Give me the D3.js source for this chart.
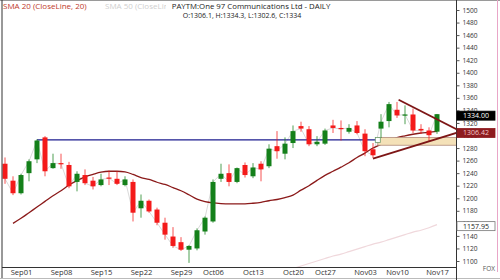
<!DOCTYPE html>
<html><head><meta charset="utf-8">
<script src="https://cdn.jsdelivr.net/npm/d3@7"></script>
<style>html,body{margin:0;padding:0;background:#fff;} svg{display:block;font-family:"Open Sans",sans-serif;}</style>
</head><body><svg id="c" width="500" height="280"></svg>
<script>
const dates = ["Aug28","Aug29","Sep01","Sep02","Sep03","Sep04","Sep05","Sep08","Sep09","Sep10","Sep11","Sep12","Sep15","Sep16","Sep17","Sep18","Sep19","Sep22","Sep23","Sep24","Sep25","Sep26","Sep29","Sep30","Oct01","Oct03","Oct06","Oct07","Oct08","Oct09","Oct10","Oct13","Oct14","Oct15","Oct16","Oct17","Oct20","Oct21","Oct23","Oct24","Oct27","Oct28","Oct29","Oct30","Oct31","Nov03","Nov04","Nov06","Nov07","Nov10","Nov11","Nov12","Nov13","Nov14","Nov17"];
const opens  = [1255,1228,1208,1240,1262,1297,1248,1256,1253,1226,1237,1228,1221,1233,1231,1221,1226,1184,1196,1182,1161,1139,1130,1118,1120,1147,1163,1231,1240,1226,1253,1235,1255,1251,1283,1271,1288,1315,1310,1286,1287,1316,1312,1306,1316,1303,1278,1311,1323,1341,1332,1333.5,1310.5,1308,1306.1];
const highs  = [1265,1235,1239,1262,1294,1299,1271,1271,1258,1243,1246,1234,1239,1244,1243,1235,1230,1206,1198,1185,1169,1154,1138,1125,1152,1171,1230,1255,1254,1249,1257,1256,1259,1286,1307,1297,1316,1322,1315,1299,1311,1325,1324,1318,1323,1310,1288,1334,1353.5,1353.5,1348,1343,1318,1313,1334.3];
const lows   = [1223,1205,1206,1227,1256,1235,1247,1247,1216,1211,1221,1214,1219,1221,1221,1219,1163,1169,1177,1157,1134,1121,1116,1097,1117,1142,1161,1226,1219,1224,1233,1232,1227,1248,1263,1262,1280,1306,1283,1283,1285,1304,1292,1303,1302,1267,1264,1296,1313,1328,1318,1304,1302.5,1291,1302.6];
const closes = [1231,1208,1237,1259,1292,1243,1256,1255,1219,1239,1224,1219,1230,1232,1223,1230,1177,1196,1179,1161,1142,1124,1118,1124,1149,1169,1226,1239,1226,1248,1237,1249,1246,1279,1275,1287,1307,1311,1286,1290,1308,1312,1310.5,1312,1304,1275,1268.5,1322,1350,1332,1333.5,1308,1308,1300.5,1334];
const sma20 = [null,1160,1168,1177,1186,1195,1204,1212,1221,1228,1234,1238,1241.5,1243,1243,1242,1238,1233,1230,1225.5,1222,1217,1212,1205.5,1198.5,1194.5,1192.5,1191.5,1191,1191,1191,1192,1193.5,1196,1198,1201,1205,1213,1220,1228.5,1236.5,1243,1249.5,1256.5,1265,1272,1280,1286,1291.5,1296.5,1299.5,1302,1304,1305,1306.42];
const sma50 = [null,null,null,null,null,null,null,null,null,null,null,null,null,null,null,null,null,null,null,null,null,null,null,null,null,null,null,null,null,null,null,null,null,null,null,null,1088,1092,1096,1100,1104,1108,1111,1115,1119,1123,1127,1130,1134,1138,1142,1146,1149,1153,1157.95];
const xTickLabels = ["Sep01","Sep08","Sep15","Sep22","Sep29","Oct06","Oct13","Oct20","Oct27","Nov03","Nov10","Nov17"];
const yTickValues = [1100,1120,1140,1160,1180,1200,1220,1240,1260,1280,1300,1320,1340,1360,1380,1400,1420,1440,1460,1480,1500];
// annotations (index position, price)
const supportLine = [[4,1293],[46.6,1293]];
const zoneBox = [[46.6,1297],[56.5,1284.5]];
const trendUpper = [[49.2,1357],[56.5,1309.5]];
const trendLower = [[46,1263],[56.5,1304.5]];
const valueTags = [{v:1334.00,fill:"#000",stroke:"#000",text:"#fff"},{v:1306.42,fill:"#8e1b1f",stroke:"#8e1b1f",text:"#f3c9c9"},{v:1157.95,fill:"#fff",stroke:"#777",text:"#222"}];
const headerSma20 = "SMA 20 (CloseLine, 20)";
const headerSma50 = "SMA 50 (CloseLine, 50)";
const headerTitle = "PAYTM:One 97 Communications Ltd - DAILY";
const headerOHLC = "O:1306.1, H:1334.3, L:1302.6, C:1334";

const svg = d3.select("#c");
const L = 2, R = 456, T = 0, B = 267;
const x = d3.scalePoint().domain(dates).range([5, 437]);
const xi = d3.scaleLinear().domain([0, dates.length - 1]).range([5, 437]);
const y = d3.scaleLinear().domain([1100, 1500]).range([261, 10]);

svg.append("defs").append("clipPath").attr("id","clip").append("rect")
  .attr("x", L).attr("y", T).attr("width", R - L).attr("height", B - T);
const g = svg.append("g").attr("clip-path","url(#clip)");

const idx = d3.range(dates.length);
// close line
g.append("path").datum(idx).attr("fill","none").attr("stroke","#cfcfcf").attr("stroke-width",0.8)
  .attr("d", d3.line().x(i => x(dates[i])).y(i => y(closes[i])));
// SMA50
g.append("path").datum(idx.filter(i => sma50[i] != null)).attr("fill","none").attr("stroke","#f0d8dc").attr("stroke-width",1.2)
  .attr("d", d3.line().x(i => x(dates[i])).y(i => y(sma50[i])).curve(d3.curveMonotoneX));
// SMA20
g.append("path").datum(idx.filter(i => sma20[i] != null)).attr("fill","none").attr("stroke","#8b1a1a").attr("stroke-width",1.3)
  .attr("d", d3.line().x(i => x(dates[i])).y(i => y(sma20[i])).curve(d3.curveMonotoneX));
// support line
g.append("line").attr("x1", xi(supportLine[0][0])).attr("x2", xi(supportLine[1][0]))
  .attr("y1", y(supportLine[0][1])).attr("y2", y(supportLine[1][1])).attr("stroke","#1c1c8f").attr("stroke-width",1.3);
// zone
g.append("rect").attr("x", xi(zoneBox[0][0])).attr("y", y(zoneBox[0][1]))
  .attr("width", xi(zoneBox[1][0]) - xi(zoneBox[0][0])).attr("height", y(zoneBox[1][1]) - y(zoneBox[0][1]))
  .attr("fill","#f4e1b8").attr("stroke","#b08a7a").attr("stroke-width",0.8);

// candles
const up = "#14801a", dn = "#f41a1a";
const cg = g.append("g");
cg.selectAll("line.w").data(idx).join("line").attr("class","w")
  .attr("x1", i => x(dates[i])).attr("x2", i => x(dates[i]))
  .attr("y1", i => y(highs[i])).attr("y2", i => y(lows[i]))
  .attr("stroke", i => closes[i] >= opens[i] ? up : dn).attr("stroke-width",1).attr("opacity",0.75);
cg.selectAll("rect.b").data(idx).join("rect").attr("class","b")
  .attr("x", i => x(dates[i]) - 2.5).attr("width", 5)
  .attr("y", i => y(Math.max(opens[i], closes[i])))
  .attr("height", i => Math.max(1.2, Math.abs(y(opens[i]) - y(closes[i]))))
  .attr("fill", i => closes[i] >= opens[i] ? up : dn);

// trend lines
[trendUpper, trendLower].forEach(t => {
  g.append("line").attr("x1", xi(t[0][0])).attr("y1", y(t[0][1])).attr("x2", xi(t[1][0])).attr("y2", y(t[1][1]))
    .attr("stroke","#7d1616").attr("stroke-width",1.8);
});
// handle
g.append("rect").attr("x", xi(zoneBox[0][0]) - 2.5).attr("y", y(1293) - 2.5).attr("width",5).attr("height",5)
  .attr("fill","#fff").attr("stroke","#6a9a6a").attr("stroke-width",0.8);

// frame
svg.append("line").attr("x1",0).attr("x2",500).attr("y1",0.5).attr("y2",0.5).attr("stroke","#9a9a9a");
svg.append("line").attr("x1",L).attr("x2",L).attr("y1",0).attr("y2",278).attr("stroke","#333").attr("stroke-width",1);
svg.append("line").attr("x1",L).attr("x2",R).attr("y1",B+0.5).attr("y2",B+0.5).attr("stroke","#333");
svg.append("line").attr("x1",0).attr("x2",500).attr("y1",278.5).attr("y2",278.5).attr("stroke","#bbb");
svg.append("line").attr("x1",497.5).attr("x2",497.5).attr("y1",0).attr("y2",272).attr("stroke","#e9a6c8").attr("stroke-width",1);

// right axis
const ya = svg.append("g").attr("transform",`translate(${R+0.5},0)`)
  .call(d3.axisRight(y).tickValues(yTickValues).tickSize(3).tickPadding(3).tickFormat(d3.format("d")));
ya.select(".domain").attr("stroke","#333").attr("d","M0,0V280");
ya.selectAll(".tick line").attr("stroke","#555");
ya.selectAll("text").attr("font-size",6.6).attr("fill","#333").attr("font-family","Open Sans, sans-serif");

// bottom axis labels
const xa = svg.append("g").attr("transform",`translate(0,${B})`)
  .call(d3.axisBottom(x).tickValues(xTickLabels).tickSize(0).tickPadding(3));
xa.select(".domain").remove();
xa.selectAll("text").attr("font-size",7.6).attr("fill","#333").attr("font-family","Open Sans, sans-serif");

// value tags
valueTags.forEach(t => {
  const cy = y(t.v) + 1.5;
  svg.append("rect").attr("x",R+1).attr("y",cy-4.5).attr("width",38).attr("height",9)
    .attr("fill",t.fill).attr("stroke",t.stroke).attr("stroke-width",0.8);
  svg.append("text").attr("x",R+20).attr("y",cy+2.4).attr("text-anchor","middle")
    .attr("font-size",7).attr("fill",t.text).text(d3.format(".2f")(t.v));
});
svg.append("text").attr("x",495).attr("y",270.5).attr("text-anchor","end").attr("font-size",6.5).attr("fill","#555").text("FOX");

// header
svg.append("text").attr("x",3).attr("y",9).attr("font-size",8).attr("fill","#c0392b").text(headerSma20);
svg.append("text").attr("x",105).attr("y",9).attr("font-size",8).attr("fill","#cfcfcf").text(headerSma50);
svg.append("rect").attr("x",166).attr("y",1).attr("width",170).attr("height",10).attr("fill","#fff");
svg.append("text").attr("x",251).attr("y",9).attr("text-anchor","middle").attr("font-size",7.8).attr("fill","#222").text(headerTitle);
svg.append("text").attr("x",242).attr("y",18).attr("text-anchor","middle").attr("font-size",7).attr("fill","#222").text(headerOHLC);
</script></body></html>
